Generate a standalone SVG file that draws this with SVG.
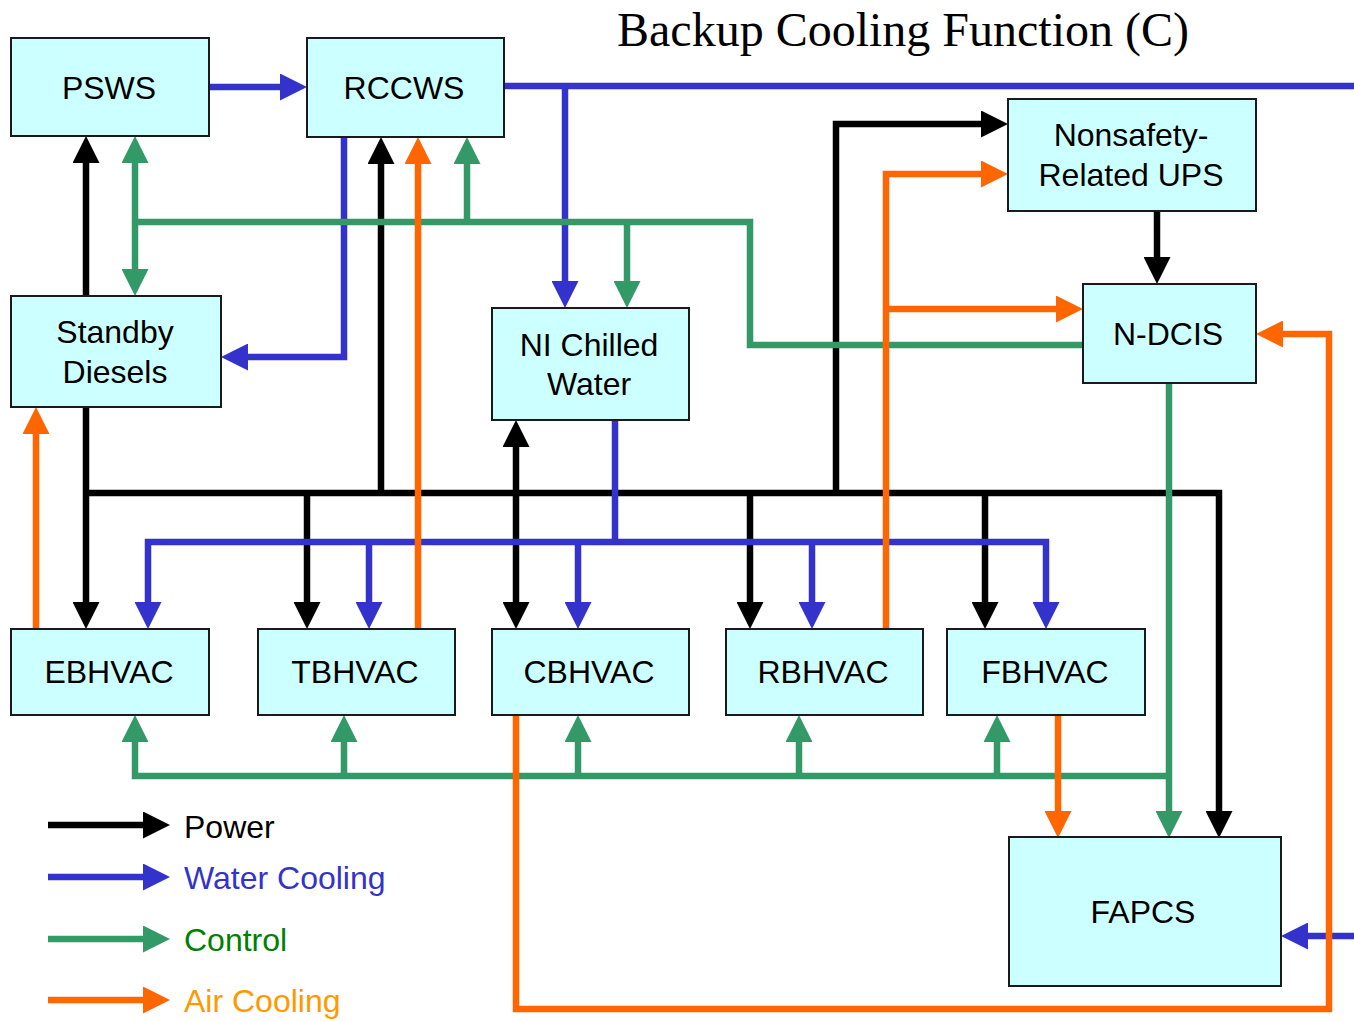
<svg xmlns="http://www.w3.org/2000/svg" width="1354" height="1021" viewBox="0 0 1354 1021">
<style>
.node rect{fill:#CCFFFF;stroke:#1a1a1a;stroke-width:2}
.node text{font-family:"Liberation Sans",Arial,sans-serif;font-size:32px;fill:#000;text-anchor:middle}
.c{fill:none;stroke-width:6.5;stroke-linejoin:miter;stroke-linecap:butt}
.k{stroke:#000;marker-end:url(#ak)}
.b{stroke:#3333CC;marker-end:url(#ab)}
.g{stroke:#339966;marker-end:url(#ag)}
.o{stroke:#FF6600;marker-end:url(#ao)}
.n{marker-end:none}
.legend text{font-family:"Liberation Sans",Arial,sans-serif;font-size:32px}
.title{font-family:"Liberation Serif","Times New Roman",serif;font-size:48px;fill:#000}
</style>
<defs>
<marker id="ak" markerUnits="userSpaceOnUse" markerWidth="27" markerHeight="27" refX="3" refY="13.5" orient="auto-start-reverse" viewBox="0 0 27 27"><path d="M0,0 L27,13.5 L0,27 z" fill="#000"/></marker>
<marker id="ab" markerUnits="userSpaceOnUse" markerWidth="27" markerHeight="27" refX="3" refY="13.5" orient="auto-start-reverse" viewBox="0 0 27 27"><path d="M0,0 L27,13.5 L0,27 z" fill="#3333CC"/></marker>
<marker id="ag" markerUnits="userSpaceOnUse" markerWidth="27" markerHeight="27" refX="3" refY="13.5" orient="auto-start-reverse" viewBox="0 0 27 27"><path d="M0,0 L27,13.5 L0,27 z" fill="#339966"/></marker>
<marker id="ao" markerUnits="userSpaceOnUse" markerWidth="27" markerHeight="27" refX="3" refY="13.5" orient="auto-start-reverse" viewBox="0 0 27 27"><path d="M0,0 L27,13.5 L0,27 z" fill="#FF6600"/></marker>
</defs>
<rect width="1354" height="1021" fill="#fff"/>
<text class="title" x="617" y="46">Backup Cooling Function (C)</text>

<g id="connectors">
<!-- Power -->
<path class="c k" d="M86,493 H1219 V814"/>
<path class="c k" d="M86,407 V605"/>
<path class="c k" d="M86,296 V160"/>
<path class="c k" d="M381,493 V161"/>
<path class="c k" d="M307,493 V605"/>
<path class="c k" d="M516,444 V605" marker-start="url(#ak)"/>
<path class="c k" d="M836,493 V124 H984"/>
<path class="c k" d="M750,493 V605"/>
<path class="c k" d="M985,493 V605"/>
<path class="c k" d="M1157,211 V260"/>
<!-- Water cooling -->
<path class="c b" d="M209,87 H283"/>
<path class="c b n" d="M504,86 H1354"/>
<path class="c b" d="M565,86 V284"/>
<path class="c b" d="M1354,936 H1305"/>
<path class="c b" d="M344,137 V357 H245"/>
<path class="c b n" d="M615,420 V542"/>
<path class="c b" d="M148,605 V542 H1046 V605" marker-start="url(#ab)"/>
<path class="c b" d="M369,542 V605"/>
<path class="c b" d="M578,542 V605"/>
<path class="c b" d="M812,542 V605"/>
<!-- Control -->
<path class="c g" d="M135,160 V272" marker-start="url(#ag)"/>
<path class="c g n" d="M135,222 H750 V345 H1083"/>
<path class="c g" d="M467,222 V161"/>
<path class="c g" d="M627,222 V284"/>
<path class="c g" d="M1169,383 V814"/>
<path class="c g" d="M1169,776 H135 V739"/>
<path class="c g" d="M344,776 V739"/>
<path class="c g" d="M578,776 V739"/>
<path class="c g" d="M799,776 V739"/>
<path class="c g" d="M997,776 V739"/>
<!-- Air cooling -->
<path class="c o" d="M36,629 V431"/>
<path class="c o" d="M418,629 V161"/>
<path class="c o" d="M886,629 V174 H984"/>
<path class="c o" d="M886,309 H1059"/>
<path class="c o" d="M516,715 V1009 H1329 V334 H1280"/>
<path class="c o" d="M1058,715 V814"/>
</g>

<g id="PSWS" class="node"><rect x="11" y="38" width="198" height="98"/><text x="109" y="99">PSWS</text></g>
<g id="RCCWS" class="node"><rect x="307" y="38" width="197" height="99"/><text x="404" y="99">RCCWS</text></g>
<g id="StandbyDiesels" class="node"><rect x="11" y="296" width="210" height="111"/><text x="115" y="343">Standby</text><text x="115" y="383">Diesels</text></g>
<g id="NIChilledWater" class="node"><rect x="492" y="308" width="197" height="112"/><text x="589" y="356">NI Chilled</text><text x="589" y="395">Water</text></g>
<g id="NonsafetyUPS" class="node"><rect x="1008" y="99" width="248" height="112"/><text x="1131" y="146">Nonsafety-</text><text x="1131" y="186">Related UPS</text></g>
<g id="NDCIS" class="node"><rect x="1083" y="284" width="173" height="99"/><text x="1168" y="345">N-DCIS</text></g>
<g id="EBHVAC" class="node"><rect x="11" y="629" width="198" height="86"/><text x="109" y="683">EBHVAC</text></g>
<g id="TBHVAC" class="node"><rect x="258" y="629" width="197" height="86"/><text x="355" y="683">TBHVAC</text></g>
<g id="CBHVAC" class="node"><rect x="492" y="629" width="197" height="86"/><text x="589" y="683">CBHVAC</text></g>
<g id="RBHVAC" class="node"><rect x="726" y="629" width="197" height="86"/><text x="823" y="683">RBHVAC</text></g>
<g id="FBHVAC" class="node"><rect x="947" y="629" width="198" height="86"/><text x="1045" y="683">FBHVAC</text></g>
<g id="FAPCS" class="node"><rect x="1009" y="837" width="272" height="149"/><text x="1143" y="923">FAPCS</text></g>

<g id="legend" class="legend">
<path class="c k" d="M48,825 H146"/>
<path class="c b" d="M48,877 H146"/>
<path class="c g" d="M48,939 H146"/>
<path class="c o" d="M48,1000 H146"/>
<text x="184" y="838" fill="#000">Power</text>
<text x="184" y="889" fill="#3333CC">Water Cooling</text>
<text x="184" y="951" fill="#008000">Control</text>
<text x="184" y="1012" fill="#FF9900">Air Cooling</text>
</g>
</svg>
